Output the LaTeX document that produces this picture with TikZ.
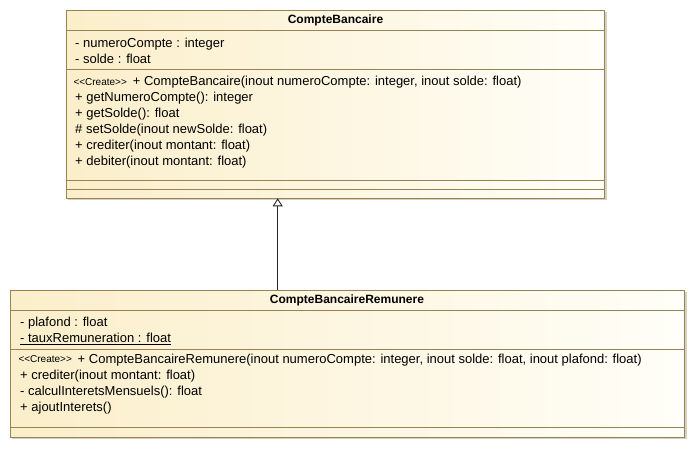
\documentclass[tikz,border=0pt]{standalone}
\usepackage{fontspec}
\setmainfont{Liberation Sans}
\usetikzlibrary{arrows.meta}
\definecolor{umlborder}{HTML}{9A8352}
\definecolor{umlleft}{HTML}{FBEECA}
\definecolor{umlright}{HTML}{FFFEF8}
\definecolor{umlshade}{HTML}{D6CFC2}
\tikzset{
  umlbox/.style={draw=umlborder, line width=0.9pt, left color=umlleft, right color=umlright, shading angle=90, anchor=north west, inner sep=0pt},
  umlshadow/.style={fill=umlshade, draw=none, anchor=north west, inner sep=0pt},
  sep/.style={draw=umlborder, line width=0.9pt},
  txt/.style={anchor=base west, inner sep=0pt, font=\fontsize{13}{16}\selectfont},
  hdr/.style={anchor=base, inner sep=0pt, font=\fontsize{12}{14}\selectfont\bfseries},
  stereo/.style={anchor=base west, inner sep=0pt, font=\fontsize{10}{12}\selectfont},
  inherit/.style={draw=black!85, line width=0.9pt, -{Triangle[open, width=10pt, length=8pt]}}
}
\begin{document}
\begin{tikzpicture}[x=1pt, y=-1pt]
\useasboundingbox (0,0) rectangle (696,449);
% ---------- CompteBancaire ----------
\node[umlshadow, minimum width=538.8pt, minimum height=188pt] (cbs) at (67.5,12.3) {};
\node[umlbox, minimum width=538.8pt, minimum height=188pt] (cb) at (65.5,10.3) {};
\draw[sep] (65.5,30) -- (604.3,30);
\draw[sep] (65.5,69.3) -- (604.3,69.3);
\draw[sep] (65.5,180.7) -- (604.3,180.7);
\draw[sep] (65.5,189.3) -- (604.3,189.3);
\node[hdr] (cbh) at (335.5,23.3) {CompteBancaire};
\node[txt] (cba1) at (75,47.3) {- numeroCompte : integer};
\node[txt] (cba2) at (75,63.3) {- solde : float};
\node[stereo] (cbst) at (73.3,85.5) {<{}<Create>{}>};
\node[txt] (cbm1) at (132.7,86) {+ CompteBancaire(inout numeroCompte: integer, inout solde: float)};
\node[txt] (cbm2) at (75,102) {+ getNumeroCompte(): integer};
\node[txt] (cbm3) at (75,118) {+ getSolde(): float};
\node[txt] (cbm4) at (75,134) {\# setSolde(inout newSolde: float)};
\node[txt] (cbm5) at (75,150) {+ crediter(inout montant: float)};
\node[txt] (cbm6) at (75,166) {+ debiter(inout montant: float)};
% ---------- CompteBancaireRemunere ----------
\node[umlshadow, minimum width=674.3pt, minimum height=146.7pt] (cbrs) at (12,292) {};
\node[umlbox, minimum width=674.3pt, minimum height=146.7pt] (cbr) at (10,290) {};
\draw[sep] (10,310) -- (684.3,310);
\draw[sep] (10,349.3) -- (684.3,349.3);
\draw[sep] (10,427.7) -- (684.3,427.7);
\node[hdr] (cbrh) at (347,303.3) {CompteBancaireRemunere};
\node[txt] (cbra1) at (20,326.7) {- plafond : float};
\node[txt] (cbra2) at (20,342.7) {\underline{- tauxRemuneration : float}};
\node[stereo] (cbrst) at (18.3,362.8) {<{}<Create>{}>};
\node[txt] (cbrm1) at (77.5,363.3) {+ CompteBancaireRemunere(inout numeroCompte: integer, inout solde: float, inout plafond: float)};
\node[txt] (cbrm2) at (20,379.3) {+ crediter(inout montant: float)};
\node[txt] (cbrm3) at (20,395.3) {- calculInteretsMensuels(): float};
\node[txt] (cbrm4) at (20,411.3) {+ ajoutInterets()};
% ---------- generalization ----------
\coordinate (gsrc) at (277.7,290);
\coordinate (gdst) at (277.7,198.3);
\draw[inherit] (gsrc) -- (gdst);
\end{tikzpicture}
\end{document}
